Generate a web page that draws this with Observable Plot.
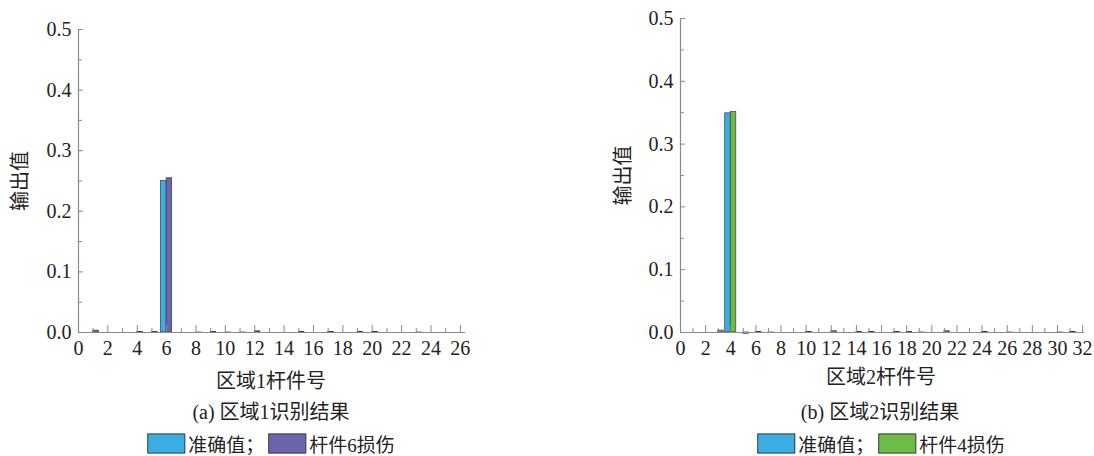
<!DOCTYPE html>
<html>
<head>
<meta charset="utf-8">
<script src="https://cdn.jsdelivr.net/npm/d3@7"></script>
<script src="https://cdn.jsdelivr.net/npm/@observablehq/plot@0.6"></script>
<style>
  body { margin: 0; background: #fff; width: 1094px; height: 456px; overflow: hidden; position: relative;
         font-family: "Liberation Serif", "Noto Sans CJK SC", serif; color: #222; }
  .panel { position: absolute; top: 0; }
  .cap { position: absolute; white-space: nowrap; transform: translate(-50%, -50%); font-size: 20px; }
  .legend { position: absolute; white-space: nowrap; transform: translate(-50%, -50%); font-size: 19px;
            display: flex; align-items: center; }
  .sw { display: inline-block; width: 36px; height: 18px; border: 1px solid #444; margin-right: 3px; }
</style>
</head>
<body>
<div id="p1" class="panel" style="left:0px"></div>
<div id="p2" class="panel" style="left:600px"></div>

<div class="cap" style="left:271px; top:379px">区域1杆件号</div>
<div class="cap" style="left:271px; top:410px">(a) 区域1识别结果</div>
<div class="legend" style="left:271px; top:443px"><span class="sw" style="background:#3aaee3"></span>准确值；<span class="sw" style="background:#6c64ae; margin-left:4px"></span>杆件6损伤</div>

<div class="cap" style="left:881px; top:375px">区域2杆件号</div>
<div class="cap" style="left:880px; top:410px">(b) 区域2识别结果</div>
<div class="legend" style="left:881px; top:443px"><span class="sw" style="background:#3aaee3"></span>准确值；<span class="sw" style="background:#6dbd45; margin-left:4px"></span>杆件4损伤</div>

<script>
// ---- Data ----
const members1 = [1,2,3,4,5,6,7,8,9,10,11,12,13,14,15,16,17,18,19,20,21,22,23,24,25,26];
const exact1   = [0,0,0,0,0,0.25,0,0,0,0,0,0,0,0,0,0,0,0,0,0,0,0,0,0,0,0];
const damage1  = [0.003,0,0,0.001,0.001,0.2545,0,-0.001,0.001,-0.001,-0.001,0.002,0,0,0.001,0,0.001,0,0.001,0.001,0,0,-0.001,0,0,0];

const members2 = [1,2,3,4,5,6,7,8,9,10,11,12,13,14,15,16,17,18,19,20,21,22,23,24,25,26,27,28,29,30,31,32];
const exact2   = [0,0,0,0.349,0,0,0,0,0,0,0,0,0,0,0,0,0,0,0,0,0,0,0,0,0,0,0,0,0,0,0,0];
const damage2  = [0,0,0.003,0.351,-0.002,0.001,-0.001,0,0,0.001,0,0.002,0,0.001,0.001,0,0.001,0.001,-0.001,0,0.002,0,0,0.001,0,-0.001,0,0,0,-0.001,0.001,0];

const yMajor = [0, 0.1, 0.2, 0.3, 0.4, 0.5];
const yMinor = [0.05, 0.15, 0.25, 0.35, 0.45];

const colExact = "#3aaee3";

const c1 = {members: members1, exact: exact1, damage: damage1, damageColor: "#6c64ae",
  xMax: 26, xEnd: 26.35, width: 480, marginLeft: 78, marginTop: 29, halfW: 0.38, labelDx: -58, axisEnd: 465};
const c2 = {members: members2, exact: exact2, damage: damage2, damageColor: "#6dbd45",
  xMax: 32, xEnd: 32.15, width: 494, marginLeft: 80, marginTop: 18, halfW: 0.44, labelDx: -57, axisEnd: 484};

function makePanel(c) {
  const mr = c.width - c.axisEnd;
  const rows = c.members.map((m, i) => ({m, exact: c.exact[i], damage: c.damage[i]}));
  const xMajor = d3.range(0, c.xMax + 1, 2);
  const xMinor = d3.range(1, c.xMax, 2);
  const axisColor = "#8a8a8a";
  return Plot.plot({
    width: c.width, height: 360,
    marginLeft: c.marginLeft, marginRight: mr,
    marginTop: c.marginTop, marginBottom: 28,
    style: {fontFamily: '"Liberation Serif", "Noto Sans CJK SC", serif', fontSize: "20px", color: "#222", background: "white", overflow: "visible"},
    x: {domain: [0, c.xEnd], axis: null},
    y: {domain: [0, 0.5], axis: null},
    marks: [
      Plot.rectY(rows, {x1: d => d.m - c.halfW, x2: d => d.m, y1: 0, y2: "exact", fill: colExact, stroke: "#3a3a3a", strokeWidth: 0.7}),
      Plot.rectY(rows, {x1: d => d.m, x2: d => d.m + c.halfW, y1: 0, y2: "damage", fill: c.damageColor, stroke: "#3a3a3a", strokeWidth: 0.7}),
      Plot.ruleY([0], {stroke: axisColor, strokeWidth: 1.2}),
      Plot.ruleX([0], {stroke: axisColor, strokeWidth: 1.2}),
      Plot.axisX({ticks: xMajor, tickSize: -7, text: null, stroke: axisColor}),
      Plot.axisX({ticks: xMinor, tickSize: -4, text: null, stroke: axisColor}),
      Plot.axisX({ticks: xMajor, tickSize: 0, tickPadding: 8, tickFormat: d => String(d), fontSize: 20, label: null}),
      Plot.axisY({ticks: yMajor, tickSize: -5, text: null, stroke: axisColor}),
      Plot.axisY({ticks: yMinor, tickSize: -4, text: null, stroke: axisColor}),
      Plot.axisY({ticks: yMajor, tickSize: 0, tickPadding: 7, tickFormat: d3.format(".1f"), fontSize: 20, label: null}),
      Plot.text(["输出值"], {frameAnchor: "left", dx: c.labelDx, rotate: -90, textAnchor: "middle", fontSize: 20, fill: "#222"})
    ]
  });
}

document.getElementById("p1").appendChild(makePanel(c1));
document.getElementById("p2").appendChild(makePanel(c2));
</script>
</body>
</html>
